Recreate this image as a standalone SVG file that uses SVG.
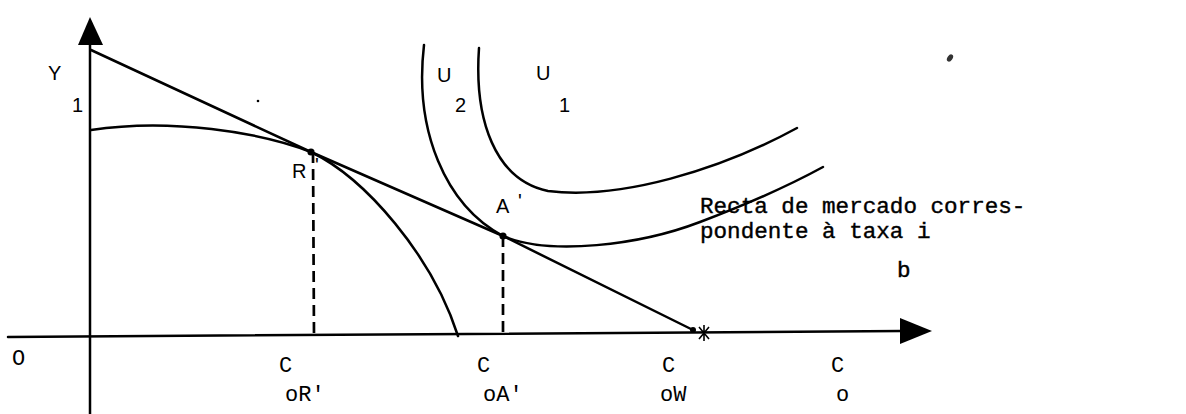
<svg xmlns="http://www.w3.org/2000/svg" width="1186" height="414" viewBox="0 0 1186 414">
<style>
.ln{fill:none;stroke:#000;stroke-width:2.5;stroke-linecap:round}
.ds{fill:none;stroke:#000;stroke-width:2.7;stroke-dasharray:11 6}
.sans{font-family:"Liberation Sans",Arial,sans-serif;font-size:20px;fill:#000}
.mono{font-family:"Liberation Mono","Courier New",monospace;font-size:22.6px;fill:#000;stroke:#000;stroke-width:0.4}
.lab{font-family:"Liberation Mono","Courier New",monospace;font-size:22px;fill:#000}
</style>
<rect width="1186" height="414" fill="#fff"/>
<g id="axes">
<line class="ln" x1="90" y1="44" x2="90" y2="414"/>
<polygon points="90,17 78,45 103,45" fill="#000"/>
<line class="ln" x1="8" y1="337" x2="902" y2="331"/>
<polygon points="932,331 900,318 900,344" fill="#000"/>
</g>
<g id="curves">
<polyline class="ln" points="91,50 311,152 503,236 693,330"/>
<path class="ln" d="M91,130 C170,118 260,132 311,152 C365,178 432,255 458,336"/>
<path class="ln" d="M424,45 C414,130 445,205 503,236 C550,256 640,245 700,222 C745,205 790,185 823,167"/>
<path class="ln" d="M479,48 C474,120 495,180 548,191 C620,200 720,170 797,128"/>
<line class="ds" x1="313" y1="152" x2="314" y2="336"/>
<line class="ds" x1="503" y1="236" x2="503" y2="334"/>
<circle cx="311" cy="152" r="3.6" fill="#000"/>
<circle cx="503" cy="236" r="3.6" fill="#000"/>
<circle cx="693" cy="330" r="3" fill="#000"/>
<path d="M699,327 L709,339 M709,327 L699,339 M704,325 L704,341" stroke="#000" stroke-width="1.6" fill="none"/>
<circle cx="258" cy="101" r="1.3" fill="#000"/>
<ellipse cx="950" cy="58" rx="2.5" ry="4" transform="rotate(35 950 58)" fill="#333"/>
</g>
<g id="labels">
<text class="sans" x="48" y="80">Y</text>
<text class="sans" x="72" y="112">1</text>
<text class="sans" x="437" y="82">U</text>
<text class="sans" x="455" y="112">2</text>
<text class="sans" x="536" y="80">U</text>
<text class="sans" x="559" y="112">1</text>
<text class="sans" x="292" y="178">R</text>
<text class="sans" x="315" y="172">'</text>
<text class="sans" x="496" y="213">A</text>
<text class="sans" x="518" y="208">'</text>
<text class="mono" x="700" y="213">Recta de mercado corres-</text>
<text class="mono" x="700" y="238">pondente à taxa i</text>
<text class="mono" x="897" y="277">b</text>
<text class="lab" x="12" y="365">O</text>
<text class="lab" x="279" y="372">C</text>
<text class="lab" x="285" y="401">oR'</text>
<text class="lab" x="477" y="372">C</text>
<text class="lab" x="483" y="401">oA'</text>
<text class="lab" x="662" y="372">C</text>
<text class="lab" x="660" y="401">oW</text>
<text class="lab" x="831" y="372">C</text>
<text class="lab" x="836" y="401">o</text>
</g>
</svg>
